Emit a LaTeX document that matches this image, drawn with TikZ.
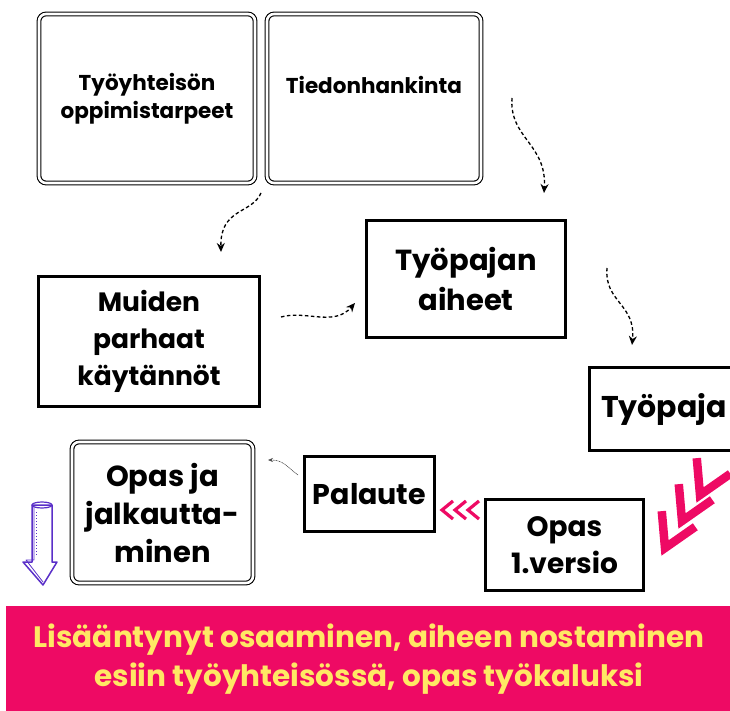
\documentclass[tikz,border=0pt]{standalone}
\usepackage{fontspec}
\setmainfont{Poppins}
\usepackage{xcolor}
\usepackage{tikz}
\usetikzlibrary{shapes.geometric, arrows, arrows.meta}
\definecolor{pinkbar}{HTML}{EE0A64}
\definecolor{yellowtext}{HTML}{FFE864}
\definecolor{purplearrow}{HTML}{5A2FC8}
\tikzstyle{plainbox} = [draw,line width=3pt,inner sep=0pt,align=center,font=\bfseries\fontsize{28}{37}\selectfont]
\tikzstyle{sketchbox} = [draw,line width=1.1pt,double,double distance=2.6pt,rounded corners=7pt,inner sep=0pt,align=center]
\tikzstyle{dasharrow} = [line width=1.3pt,dash pattern=on 3.5pt off 2.5pt,-{Stealth[length=9pt,width=8pt]}]
\tikzstyle{chevbig} = [pinkbar,line width=8.5pt,line join=miter]
\tikzstyle{chevsmall} = [pinkbar,line width=3.2pt,line join=miter]

\begin{document}
\begin{tikzpicture}[line cap=butt,x=1pt,y=1pt]
                \useasboundingbox (0,0) rectangle (730,710);
                \node[sketchbox,minimum width=216,minimum height=169,font=\bfseries\fontsize{21.5}{28}\selectfont] (needs) at (147,611.5) {Työyhteisön\\oppimistarpeet};
                \node[sketchbox,minimum width=214,minimum height=169,font=\bfseries\fontsize{21.5}{28}\selectfont] (search) at (374,611.5) {Tiedonhankinta\\\mbox{}};
                \node[plainbox,minimum width=221,minimum height=130,font=\bfseries\fontsize{26.5}{37}\selectfont] (practices) at (149,368.5) {Muiden\\parhaat\\käytännöt};
                \node[plainbox,minimum width=199,minimum height=117,font=\bfseries\fontsize{29}{40}\selectfont] (topics) at (466,431) {Työpajan\\aiheet};
                \node[plainbox,minimum width=149,minimum height=83,font=\bfseries\fontsize{30}{40}\selectfont] (workshop) at (664,301) {Työpaja};
                \node[plainbox,minimum width=158,minimum height=91] (draft) at (564.5,165) {Opas\\1.versio};
                \node[plainbox,minimum width=130,minimum height=75,font=\bfseries\fontsize{28.5}{37}\selectfont] (feedback) at (369.5,216) {Palaute};
                \node[sketchbox,minimum width=181,minimum height=141,font=\bfseries\fontsize{29}{38}\selectfont] (guide) at (162.5,197.5) {Opas ja\\jalkautta-\\minen};
                \node[fill=pinkbar,minimum width=726,minimum height=106,inner sep=0pt,align=center,text=yellowtext,font=\bfseries\fontsize{29.5}{39}\selectfont] (result) at (369,51) {Lisääntynyt osaaminen, aiheen nostaminen\\esiin työyhteisössä, opas työkaluksi};

                \coordinate (a1s) at (512,612);
                \coordinate (a1e) at (544,517);
                \coordinate (a2s) at (261,517);
                \coordinate (a2e) at (221,458);
                \coordinate (a3s) at (281,393);
                \coordinate (a3e) at (355,407);
                \coordinate (a4s) at (607,442);
                \coordinate (a4e) at (632,365);
                \coordinate (a5s) at (298,235);
                \coordinate (a5e) at (268,250);
                \draw[dasharrow] (a1s) .. controls (509,572) and (547,566) .. (a1e);
                \draw[dasharrow] (a2s) .. controls (252,496) and (220,502) .. (a2e);
                \draw[dasharrow] (a3s) .. controls (306,400) and (334,383) .. (a3e);
                \draw[dasharrow] (a4s) .. controls (604,408) and (636,406) .. (a4e);
                \draw[black!70,line width=0.6pt,dash pattern=on 1pt off 0.6pt,-{Stealth[length=5pt,width=4pt]}] (a5s) .. controls (288,242) and (284,250) .. (a5e);

                \foreach \cx/\cy in {700/215,682/189,665/162}
                    \draw[chevbig] (\cx,\cy) ++(95:37) -- (\cx,\cy) -- ++(35:37);
                \foreach \cx in {442,455,468}
                    \draw[chevsmall] (\cx+11,209) -- (\cx,200) -- (\cx+11,191);

                \draw[purplearrow,line width=1.5pt,line join=round] (32,205) -- (32,148) -- (23,148) -- (43,125) -- (57,148) -- (52,148) -- (52,205) -- cycle;
                \draw[purplearrow,line width=0.8pt,line join=round] (34,203) -- (34,150) -- (26,150) -- (43,128);
                \draw[purplearrow,line width=1.2pt] (42,205) ellipse (10 and 3);
                \draw[purplearrow,line width=1pt,dotted] (36,198) -- (36,155);
            \end{tikzpicture}
\end{document}
